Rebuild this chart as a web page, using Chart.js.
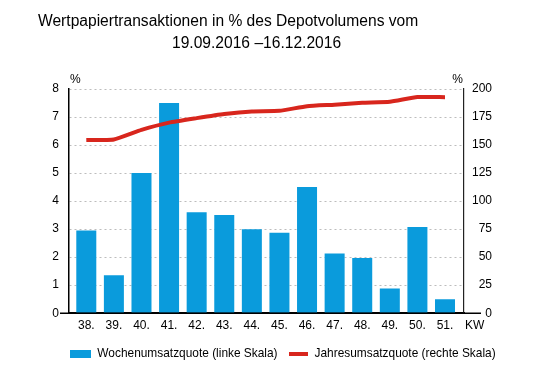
<!DOCTYPE html>
<html>
<head>
<meta charset="utf-8">
<script src="https://cdn.jsdelivr.net/npm/chart.js@4/dist/chart.umd.min.js"></script>
<style>
  html, body { margin: 0; padding: 0; background: #fff; }
  #wrap { width: 555px; height: 384px; position: relative; }
</style>
</head>
<body>
<div id="wrap"><canvas id="c" width="555" height="384"></canvas></div>
<script>
// ---- data ----
const categories = ['38.', '39.', '40.', '41.', '42.', '43.', '44.', '45.', '46.', '47.', '48.', '49.', '50.', '51.'];
const weeklyRate = [2.95, 1.35, 5.0, 7.5, 3.6, 3.5, 3.0, 2.87, 4.5, 2.13, 1.97, 0.88, 3.08, 0.5];
const annualRate = [154.5, 155, 163.5, 170, 174, 177.7, 180, 180.5, 184.7, 186, 187.7, 188.6, 192.8, 192.7];
const leftTicks = [0, 1, 2, 3, 4, 5, 6, 7, 8];
const rightTicks = [0, 25, 50, 75, 100, 125, 150, 175, 200];
const seriesNames = ['Wochenumsatzquote (linke Skala)', 'Jahresumsatzquote (rechte Skala)'];
const titleLines = ['Wertpapiertransaktionen in % des Depotvolumens vom', '19.09.2016 \u201316.12.2016'];
const axisUnitLeft = '%';
const axisUnitRight = '%';
const xUnit = 'KW';

const FONT = '"Liberation Sans", Arial, sans-serif';
const BLUE = '#0a9bdc';
const RED = '#d8261d';

function makeSwatch(w, h, color) {
  const cv = document.createElement('canvas');
  cv.width = w; cv.height = h;
  const g = cv.getContext('2d');
  g.fillStyle = color;
  g.fillRect(0, 0, w, h);
  return cv;
}
const blueSwatch = makeSwatch(21, 8, BLUE);
const redSwatch = makeSwatch(19, 4, RED);

const tweaks = {
  id: 'tweaks',
  afterLayout(chart) {
    // inset the category band slightly inside the axes, as in the original
    const x = chart.scales.x;
    x._startPixel = x.left + 3.5;
    x._endPixel = x.right - 5.2;
    x._length = x._endPixel - x._startPixel;
    // centre legend on the full canvas width (plus a small nudge)
    const lg = chart.legend;
    if (lg) { lg.left += 37; lg.right += 37; }
  },
  afterDraw(chart) {
    const ctx = chart.ctx;
    const a = chart.chartArea;
    ctx.save();
    // x axis line extends past both vertical axes
    ctx.strokeStyle = '#000';
    ctx.lineWidth = 1.5;
    ctx.beginPath();
    ctx.moveTo(a.left - 9, a.bottom);
    ctx.lineTo(a.right + 17, a.bottom);
    ctx.stroke();

    ctx.fillStyle = '#000';
    ctx.textBaseline = 'alphabetic';
    ctx.font = '15.6px ' + FONT;
    ctx.textAlign = 'left';
    ctx.fillText(titleLines[0], 38, 26);
    ctx.fillText(titleLines[1], 172, 48);
    ctx.font = '12px ' + FONT;
    ctx.textBaseline = 'middle';
    ctx.textAlign = 'left';
    ctx.fillText(axisUnitLeft, a.left + 1, 80);
    ctx.textAlign = 'right';
    ctx.fillText(axisUnitRight, a.right - 1, 80);
    ctx.textAlign = 'left';
    ctx.fillText(xUnit, a.right + 1, a.bottom + 12);
    ctx.restore();
  }
};

new Chart(document.getElementById('c'), {
  data: {
    labels: categories,
    datasets: [
      {
        type: 'line',
        label: seriesNames[1],
        data: annualRate,
        yAxisID: 'y1',
        borderColor: RED,
        backgroundColor: RED,
        borderWidth: 4,
        pointRadius: 0,
        tension: 0.15,
        order: 0,
        pointStyle: redSwatch
      },
      {
        type: 'bar',
        label: seriesNames[0],
        data: weeklyRate,
        yAxisID: 'y',
        backgroundColor: BLUE,
        borderWidth: 0,
        barPercentage: 0.725,
        categoryPercentage: 1.0,
        order: 1,
        pointStyle: blueSwatch
      }
    ]
  },
  options: {
    responsive: false,
    animation: false,
    devicePixelRatio: 1,
    layout: { padding: { top: 89, left: 0, right: 63, bottom: 14.5 } },
    plugins: {
      title: { display: false },
      tooltip: { enabled: false },
      legend: {
        display: true,
        position: 'bottom',
        reverse: true,
        labels: {
          usePointStyle: true,
          pointStyleWidth: 21,
          boxHeight: 8,
          padding: 10,
          color: '#000',
          font: { family: FONT, size: 11.9 }
        }
      }
    },
    scales: {
      x: {
        type: 'category',
        offset: true,
        grid: { display: false, drawTicks: false },
        border: { display: true, color: '#000', width: 1.5 },
        ticks: { color: '#000', font: { family: FONT, size: 12 }, padding: 5, maxRotation: 0 }
      },
      y: {
        type: 'linear',
        position: 'left',
        min: 0, max: 8,
        afterBuildTicks(s) { s.ticks = leftTicks.map(v => ({ value: v })); },
        afterFit(s) { s.width = 69; },
        grid: {
          drawOnChartArea: true,
          drawTicks: false,
          color: '#bdbdbd',
          lineWidth: 1
        },
        border: { display: true, color: '#000', width: 1.5, dash: [2, 3] },
        ticks: { color: '#000', font: { family: FONT, size: 12 }, padding: 10 }
      },
      y1: {
        type: 'linear',
        position: 'right',
        min: 0, max: 200,
        afterBuildTicks(s) { s.ticks = rightTicks.map(v => ({ value: v })); },
        afterFit(s) { s.width = 28; },
        grid: { drawOnChartArea: false, drawTicks: false },
        border: { display: true, color: '#222', width: 1.2 },
        ticks: { color: '#000', font: { family: FONT, size: 12 }, padding: 8, crossAlign: 'far' }
      }
    }
  },
  plugins: [tweaks]
});
</script>
</body>
</html>
